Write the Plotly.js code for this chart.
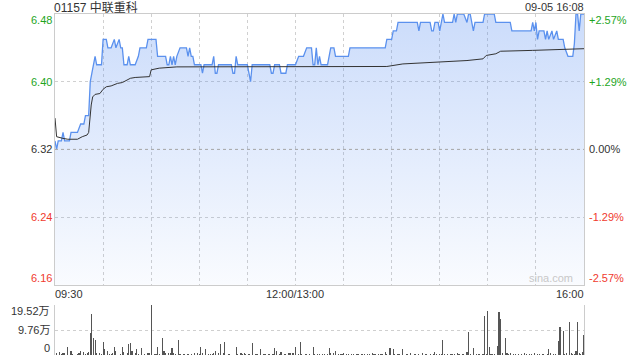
<!DOCTYPE html>
<html>
<head>
<meta charset="utf-8">
<script src="https://cdn.plot.ly/plotly-3.0.1.min.js"></script>
<style>html,body{margin:0;padding:0;background:#fff}#chart{width:640px;height:360px}</style>
</head>
<body>
<div id="chart"></div>
<script>
// ---- data ----
const stockTitle = '01157 中联重科';
const stamp = '09-05 16:08';
const prevClose = 6.32;
const priceTicks = [6.48, 6.40, 6.32, 6.24, 6.16];
const pctTicks = ['+2.57%', '+1.29%', '0.00%', '-1.29%', '-2.57%'];
const timeLabels = ['09:30', '12:00/13:00', '16:00'];
const timeLabelMinutes = [0, 150, 330];
const volTicks = [19.52, 9.76, 0];
const volUnit = '万';

// minutes since 09:30 (lunch break removed)
const priceMinutes = [0,1,2,4,5,6,9,10,14,16,18,19,21,22,23,24,25,26,29,30,32,33,35,37,38,40,41,42,43,45,46,47,50,52,53,57,58,63,64,69,70,71,72,73,74,75,76,78,82,83,84,85,86,87,91,92,93,98,99,100,101,102,110,111,112,113,114,120,121,122,123,134,135,136,137,140,141,144,145,150,152,155,157,160,161,162,163,164,165,166,170,172,174,175,183,184,206,207,210,211,213,214,226,227,228,234,235,236,237,239,240,242,243,248,249,250,251,255,257,258,259,261,262,267,268,274,275,284,285,297,298,299,300,301,302,305,306,307,308,310,311,313,314,317,318,320,323,324,325,326,327,328,330];
const prices = [6.33,6.32,6.33,6.33,6.34,6.33,6.33,6.34,6.34,6.35,6.35,6.36,6.36,6.40,6.41,6.42,6.43,6.42,6.42,6.45,6.45,6.44,6.44,6.45,6.44,6.45,6.44,6.44,6.42,6.42,6.43,6.42,6.42,6.43,6.44,6.44,6.45,6.45,6.43,6.43,6.42,6.42,6.43,6.42,6.43,6.42,6.43,6.44,6.44,6.43,6.44,6.43,6.43,6.42,6.42,6.41,6.42,6.42,6.43,6.41,6.41,6.42,6.42,6.41,6.41,6.43,6.42,6.42,6.41,6.40,6.42,6.42,6.41,6.41,6.42,6.42,6.41,6.41,6.42,6.42,6.43,6.43,6.44,6.44,6.42,6.42,6.44,6.42,6.43,6.42,6.42,6.44,6.44,6.43,6.43,6.44,6.44,6.45,6.45,6.46,6.46,6.47,6.47,6.46,6.47,6.47,6.46,6.46,6.47,6.47,6.46,6.48,6.47,6.47,6.48,6.47,6.48,6.48,6.47,6.48,6.48,6.46,6.47,6.47,6.48,6.48,6.47,6.47,6.46,6.46,6.47,6.46,6.47,6.45,6.46,6.46,6.45,6.46,6.45,6.46,6.45,6.46,6.45,6.45,6.44,6.43,6.43,6.445,6.48,6.48,6.46,6.48,6.48];

const avgMinutes = [0,1,5,8,14,17,20,21,22.6,23.5,25,28,30,32,35,39,42,47,50,59,60,65,76,165,207,217,240,257,267,269,275,278,298,315,330];
const avgPrices = [6.357,6.335,6.333,6.332,6.332,6.335,6.337,6.34,6.3725,6.382,6.385,6.386,6.391,6.394,6.395,6.398,6.399,6.404,6.405,6.406,6.414,6.416,6.4175,6.4175,6.418,6.421,6.423,6.425,6.427,6.431,6.433,6.436,6.437,6.438,6.439];

const volMinutes = [1,3,4,5,6,8,10,11,14,15,16,18,19,20,21,22,23,24,25,26,28,29,30,31,33,34,35,36,37,38,39,41,42,43,45,46,47,48,50,51,52,54,56,58,59,60,62,63,64,65,67,68,69,71,72,73,74,75,77,78,80,81,83,85,87,89,90,91,92,94,96,97,98,99,100,102,103,105,106,108,109,
113,114,116,117,118,119,121,123,125,126,128,130,131,133,134,136,137,138,140,141,143,144,146,147,148,149,150,152,153,154,156,157,159,161,162,164,165,167,168,170,171,172,174,175,177,178,179,180,182,183,185,186,188,189,191,192,193,195,196,198,199,200,202,203,204,206,207,209,211,212,214,215,217,219,220,
222,224,225,227,229,231,232,234,236,237,238,240,241,242,243,245,247,248,249,251,252,254,255,257,258,259,261,263,264,265,267,268,269,270,271,272,273,274,276,277,278,279,281,282,283,284,286,287,289,291,293,294,296,297,299,301,302,304,305,307,308,309,311,312,314,315,317,318,319,321,322,323,324,325,326,327,328,329,330];
const volumes = [0.9,1.0,0.5,0.65,0.65,3.3,1.7,0.3,0.3,0.9,1.7,1.0,0.4,0.65,1.3,8.5,15.9,6.5,5.7,0.65,0.65,0.3,5.2,2.2,1.7,0.4,0.3,0.65,3.0,1.7,0.1,0.4,3.3,1.3,0.65,4.2,4.6,1.7,0.65,2.3,0.5,2.6,0.3,0.9,0.65,19.52,0.3,0.4,3.3,0.4,6.5,1.7,0.65,0.65,0.65,2.9,0.65,0.4,5.7,0.3,0.3,0.3,0.3,0.3,0.9,0.65,0.4,3.3,0.65,2.2,0.4,0.4,0.4,0.9,1.7,0.65,4.2,0.65,4.9,0.3,0.3,
3.3,0.3,0.9,0.4,0.65,0.3,0.3,4.6,0.3,0.3,2.2,0.3,0.3,0.3,0.4,0.3,2.6,1.6,0.4,1.3,0.3,0.3,0.65,0.65,0.65,0.65,3.0,0.3,5.2,0.3,0.3,0.3,0.3,3.3,0.3,0.3,0.3,0.3,0.3,0.3,2.9,0.9,0.9,1.7,0.3,0.4,0.3,0.9,0.3,0.3,0.3,0.4,0.3,0.3,0.3,0.3,0.3,0.3,0.4,0.65,0.4,0.3,0.3,0.3,0.4,1.3,0.3,2.9,2.2,0.3,0.3,0.3,2.2,0.3,0.3,
0.9,0.3,0.4,0.3,0.65,0.4,0.3,0.4,0.3,1.3,0.4,0.3,0.4,5.7,0.3,0.3,0.3,0.4,0.3,0.65,0.4,0.3,0.3,1.3,9.1,0.3,2.9,0.3,0.3,0.3,0.4,15.4,0.3,17.3,3.0,0.3,0.4,0.3,3.6,16.7,13.9,0.65,6.5,0.9,0.3,0.65,0.3,0.3,0.3,0.3,0.65,0.3,0.3,0.4,0.65,0.3,0.3,0.3,0.3,0.3,2.2,0.65,0.3,0.3,5.5,11.1,9.5,0.3,0.65,12.8,0.65,0.3,0.3,1.7,12.8,0.65,0.3,1.3,7.8];

// ---- chart ----
const FONT = 'Liberation Sans, Arial, Noto Sans CJK SC, sans-serif';
const GREEN = '#1ea51e', RED = '#f03a2e', DARK = '#333333';
const pMin = Math.min(...priceTicks), pMax = Math.max(...priceTicks);
const vMax = Math.max(...volTicks);
const tMax = Math.max(...timeLabelMinutes);

const traces = [
  {
    x: priceMinutes, y: prices, type: 'scatter', mode: 'lines',
    line: {color: '#5b91ee', width: 1.3},
    fill: 'tozeroy',
    fillgradient: {type: 'vertical', start: pMin, stop: pMax,
      colorscale: [[0, 'rgba(70,130,240,0.03)'], [1, 'rgba(70,130,240,0.28)']]},
    xaxis: 'x', yaxis: 'y', hoverinfo: 'skip'
  },
  {
    x: avgMinutes, y: avgPrices, type: 'scatter', mode: 'lines',
    line: {color: '#333', width: 1},
    xaxis: 'x', yaxis: 'y', hoverinfo: 'skip'
  },
  {
    x: volMinutes, y: volumes, type: 'bar', width: 0.7,
    marker: {color: '#555', line: {width: 0}},
    xaxis: 'x2', yaxis: 'y2', hoverinfo: 'skip'
  }
];

function tickColor(v) { return v > prevClose ? GREEN : (v < prevClose ? RED : DARK); }
function edgeShift(i, n) { return i === 0 ? -6 : (i === n - 1 ? 7 : 0); }

const annotations = [];
priceTicks.forEach((v, i) => {
  const ys = edgeShift(i, priceTicks.length);
  annotations.push({xref: 'paper', yref: 'y', x: 0, y: v, xanchor: 'right', yanchor: 'middle',
    xshift: -1, yshift: ys, text: v.toFixed(2), showarrow: false, font: {family: FONT, size: 11, color: tickColor(v)}});
  annotations.push({xref: 'paper', yref: 'y', x: 1, y: v, xanchor: 'left', yanchor: 'middle',
    xshift: 3, yshift: ys, text: pctTicks[i], showarrow: false, font: {family: FONT, size: 11, color: tickColor(v)}});
});
timeLabels.forEach((t, i) => {
  annotations.push({xref: 'x', yref: 'y', x: timeLabelMinutes[i], y: pMin,
    xanchor: i === 0 ? 'left' : (i === timeLabels.length - 1 ? 'right' : 'center'),
    yanchor: 'top', yshift: -1, xshift: i === 0 ? -2 : (i === timeLabels.length - 1 ? 2 : 0),
    text: t, showarrow: false, font: {family: FONT, size: 11, color: DARK}});
});
volTicks.forEach((v, i) => {
  annotations.push({xref: 'paper', yref: 'y2', x: 0, y: v, xanchor: 'right', yanchor: 'middle',
    xshift: -3, yshift: edgeShift(i, volTicks.length),
    text: v === 0 ? '0' : v.toFixed(2) + volUnit, showarrow: false, font: {family: FONT, size: 11, color: DARK}});
});
annotations.push({xref: 'paper', yref: 'paper', x: 0, y: 1, xanchor: 'left', yanchor: 'middle', xshift: -1, yshift: 7,
  borderpad: 0, borderwidth: 0,
  text: stockTitle, showarrow: false, font: {family: FONT, size: 12, color: DARK}});
annotations.push({xref: 'paper', yref: 'paper', x: 1, y: 1, xanchor: 'right', yanchor: 'middle', xshift: 0, yshift: 7,
  borderpad: 0, borderwidth: 0,
  text: stamp, showarrow: false, font: {family: FONT, size: 11, color: DARK}});
annotations.push({xref: 'paper', yref: 'y', x: 1, y: pMin, xanchor: 'right', yanchor: 'bottom', xshift: -9, yshift: -1,
  text: 'sina.com', showarrow: false, font: {family: FONT, size: 11, color: '#c8c8c8'}});

const layout = {
  width: 640, height: 360,
  margin: {l: 55, r: 56, t: 14, b: 5, pad: 0},
  paper_bgcolor: '#fff', plot_bgcolor: 'rgba(0,0,0,0)',
  showlegend: false,
  font: {family: FONT, size: 11, color: DARK},
  xaxis: {domain: [0, 1], range: [0, tMax], dtick: 30, tick0: 0, showgrid: true, gridcolor: '#d0d0d0',
    griddash: 'dot', gridwidth: 1, showticklabels: false, ticks: '', zeroline: false,
    showline: true, mirror: true, linecolor: '#cccccc', linewidth: 1, anchor: 'y'},
  yaxis: {domain: [0.2059, 1], range: [pMin, pMax], tickvals: priceTicks, showgrid: true, gridcolor: '#d0d0d0',
    griddash: 'dot', gridwidth: 1, showticklabels: false, ticks: '', zeroline: false,
    showline: true, mirror: true, linecolor: '#cccccc', linewidth: 1, anchor: 'x'},
  xaxis2: {domain: [0, 1], range: [0, tMax], showgrid: false, showticklabels: false, ticks: '', zeroline: false,
    showline: false, anchor: 'y2'},
  yaxis2: {domain: [0, 0.1466], range: [0, vMax], tickvals: volTicks, showgrid: true, gridcolor: '#cfcfcf',
    griddash: 'dot', gridwidth: 1, showticklabels: false, ticks: '', zeroline: false,
    showline: true, mirror: true, linecolor: '#cccccc', linewidth: 1, anchor: 'x2'},
  shapes: [{type: 'line', xref: 'paper', x0: 0, x1: 1, yref: 'y', y0: prevClose, y1: prevClose,
    line: {color: '#aaaaaa', width: 1, dash: '3px,3px'}, layer: 'above'}],
  annotations: annotations,
  bargap: 0
};

Plotly.newPlot('chart', traces, layout, {staticPlot: true, displayModeBar: false});
</script>
</body>
</html>
